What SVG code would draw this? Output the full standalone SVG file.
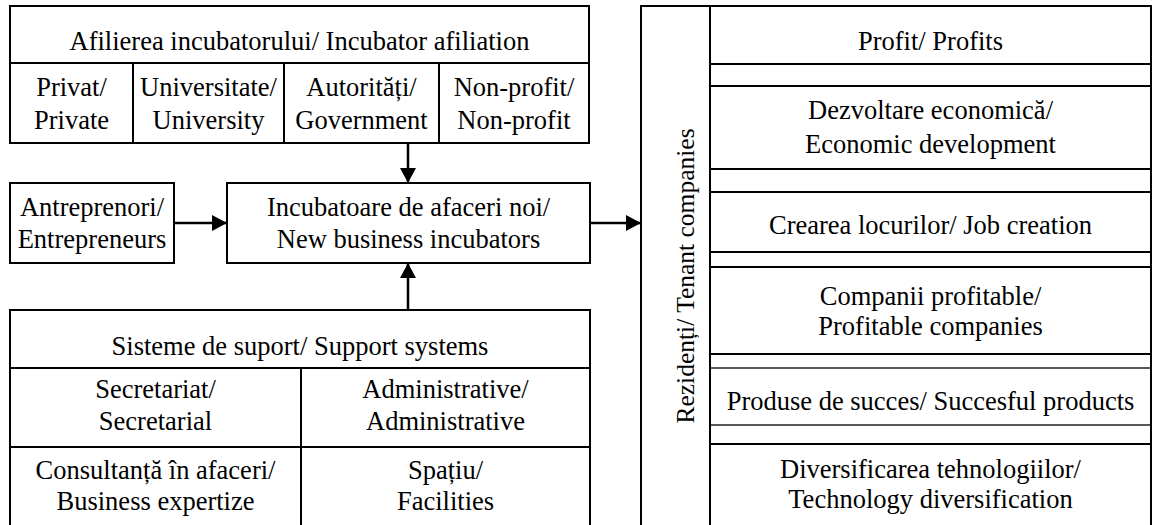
<svg xmlns="http://www.w3.org/2000/svg" width="1158" height="525" viewBox="0 0 1158 525">
<style>
.b{fill:#fff;stroke:#000;stroke-width:2}
.t{fill:none;stroke:#000;stroke-width:1.3}
.l{stroke:#000;stroke-width:2;fill:none}
.x{font-family:'Liberation Serif','DejaVu Serif',serif;font-size:26.5px;fill:#000;text-anchor:middle}
.c{stroke:#000;stroke-width:2.5;fill:none}
</style>
<defs>
<marker id="ah" markerUnits="userSpaceOnUse" markerWidth="18" markerHeight="18" refX="15" refY="8" orient="auto">
<path d="M0,0 L15,8 L0,16 Z" fill="#000"/>
</marker>
</defs>
<rect width="1158" height="525" fill="#fff"/>
<g class="x" font-family="Liberation Serif, DejaVu Serif, serif">
<g id="affiliation">
<rect class="b" x="10" y="6" width="579" height="57"/>
<text x="299.5" y="50">Afilierea incubatorului/ Incubator afiliation</text>
<rect class="b" x="10" y="63" width="579" height="80"/>
<line class="l" x1="133" y1="63" x2="133" y2="143"/>
<line class="l" x1="284" y1="63" x2="284" y2="143"/>
<line class="l" x1="439" y1="63" x2="439" y2="143"/>
<text x="71.5" y="96">Privat/</text><text x="71.5" y="129">Private</text>
<text x="208.5" y="96">Universitate/</text><text x="208.5" y="129">University</text>
<text x="361.5" y="96">Autorități/</text><text x="361.5" y="129">Government</text>
<text x="514" y="96">Non-profit/</text><text x="514" y="129">Non-profit</text>
</g>
<g id="entrepreneurs">
<rect class="b" x="10" y="183" width="164" height="80"/>
<text x="92" y="216">Antreprenori/</text><text x="92" y="248">Entrepreneurs</text>
</g>
<g id="incubators">
<rect class="b" x="227" y="183" width="363" height="80"/>
<text x="408.5" y="216">Incubatoare de afaceri noi/</text><text x="408.5" y="248">New business incubators</text>
</g>
<g id="support">
<rect class="b" x="10" y="310" width="580" height="58"/>
<text x="300" y="355">Sisteme de suport/ Support systems</text>
<rect class="b" x="10" y="368" width="580" height="170"/>
<line class="l" x1="10" y1="447" x2="590" y2="447"/>
<line class="l" x1="301" y1="368" x2="301" y2="538"/>
<text x="155.5" y="398">Secretariat/</text><text x="155.5" y="430">Secretarial</text>
<text x="445.5" y="398">Administrative/</text><text x="445.5" y="430">Administrative</text>
<text x="155.5" y="479">Consultanță în afaceri/</text><text x="155.5" y="510">Business expertize</text>
<text x="445.5" y="479">Spațiu/</text><text x="445.5" y="510">Facilities</text>
</g>
<g id="tenants">
<rect class="b" x="641" y="6" width="510" height="532"/>
<line class="l" x1="710" y1="6" x2="710" y2="538"/>
<text x="694" y="276" font-size="25.5" transform="rotate(-90 694 276)">Rezidenți/ Tenant companies</text>
</g>
<g id="profit">
<rect class="b" x="710" y="6" width="441" height="58"/>
<text x="930.5" y="50">Profit/ Profits</text>
</g>
<g id="econ">
<rect class="b" x="710" y="86" width="441" height="83"/>
<text x="930.5" y="119">Dezvoltare economică/</text><text x="930.5" y="153">Economic development</text>
</g>
<g id="jobs">
<rect class="b" x="710" y="192" width="441" height="60"/>
<text x="930.5" y="234">Crearea locurilor/ Job creation</text>
</g>
<g id="companies">
<rect class="b" x="710" y="267" width="441" height="87"/>
<text x="930.5" y="305">Companii profitable/</text><text x="930.5" y="335">Profitable companies</text>
</g>
<g id="products">
<rect class="t" x="710" y="368" width="441" height="57"/>
<text x="930.5" y="410">Produse de succes/ Succesful products</text>
</g>
<g id="tech">
<rect class="b" x="710" y="444" width="441" height="94"/>
<text x="930.5" y="478">Diversificarea tehnologiilor/</text><text x="930.5" y="508">Technology diversification</text>
</g>
</g>
<g id="connectors">
<line class="c" x1="408" y1="143" x2="408" y2="183" marker-end="url(#ah)"/>
<line class="c" x1="174" y1="223" x2="227" y2="223" marker-end="url(#ah)"/>
<line class="c" x1="590" y1="223" x2="641" y2="223" marker-end="url(#ah)"/>
<line class="c" x1="408" y1="310" x2="408" y2="263" marker-end="url(#ah)"/>
</g>
</svg>
